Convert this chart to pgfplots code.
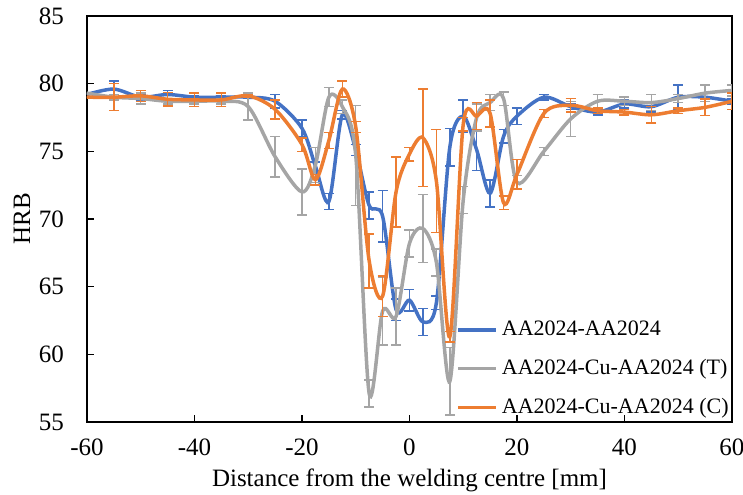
\documentclass[border=0pt]{standalone}
\usepackage{fontspec}
\setmainfont{Liberation Serif}
\usepackage{pgfplots}
\usepackage{pgfplotstable}
\pgfplotsset{compat=1.18}
\definecolor{xlblue}{HTML}{4472C4}
\definecolor{xlgray}{HTML}{A5A5A5}
\definecolor{xlorange}{HTML}{ED7D31}

% x, HRB, error
\pgfplotstableread{
x y e
-60 79.2 0
-55 79.6 0.6
-50 79.0 0.2
-45 79.2 0.3
-40 79.0 0.1
-35 79.0 0.1
-30 79.0 0.1
-25 78.7 0.5
-20 76.7 0.6
-17.5 73.9 0.3
-15 71.3 0.6
-12.5 77.7 0.3
-10 75.1 0.4
-7.5 71.0 1.0
-5 70.2 1.9
-2.5 63.3 0.8
0 64.0 0.8
2.5 62.4 1.0
5 63.8 0.5
7.5 75.3 1.4
10 77.6 1.2
12.5 75.1 1.5
15 71.9 1.0
17.5 76.1 0.5
20 77.6 0.6
25 79.0 0.2
30 78.3 0.2
35 77.9 0.2
40 78.5 0.3
45 78.3 0.4
50 79.0 0.9
55 79.0 0.3
60 78.7 0.2
}\tabAA

\pgfplotstableread{
x y e
-60 79.3 0
-55 79.0 0.2
-50 78.9 0.4
-45 78.7 0.2
-40 78.7 0.2
-35 78.7 0.2
-30 78.3 1.0
-25 74.6 1.5
-20 72.0 1.7
-17.5 74.0 1.3
-15 79.0 0.7
-12.5 78.3 0.5
-10 74.7 3.7
-7.5 57.1 1.0
-5 63.2 2.5
-2.5 62.8 2.1
0 68.2 1.0
2.5 69.3 2.5
5 66.8 1.0
7.5 58.0 2.5
10 71.4 1.0
12.5 77.5 1.0
15 78.6 0.6
17.5 78.9 0.5
20 72.7 0.5
25 75.0 0.3
30 77.4 1.3
35 78.7 0.5
40 78.7 0.3
45 78.6 0.6
50 78.9 0.3
55 79.3 0.6
60 79.5 0.4
}\tabT

\pgfplotstableread{
x y e
-60 79.0 0
-55 79.0 1.0
-50 79.1 0.4
-45 78.85 0.5
-40 78.8 0.5
-35 78.8 0.5
-30 79.1 0.1
-25 78.1 0.7
-20 75.5 0.5
-17.5 72.9 0.4
-15 75.8 0.6
-12.5 79.6 0.6
-10 76.8 0.4
-7.5 66.9 2.0
-5 64.3 1.5
-2.5 72.0 2.6
0 74.8 0.5
2.5 76.0 3.6
5 72.8 3.8
7.5 61.3 0.4
10 77.0 0.5
12.5 77.6 1.0
15 77.8 1.0
17.5 71.2 0.5
20 73.3 1.1
25 77.8 0.3
30 78.4 0.5
35 78.0 0.2
40 77.9 0.2
45 77.7 0.6
50 78.0 0.2
55 78.25 0.6
60 78.7 0.6
}\tabC

\begin{document}
\begin{tikzpicture}
\begin{axis}[
    name=ax, at={(0,0)}, anchor=south west,
    scale only axis, width=322.5pt, height=203pt,
    xmin=-60, xmax=60, ymin=55, ymax=85,
    xtick={-60,-40,...,60}, ytick={55,60,...,85},
    tick align=inside, xtick pos=bottom, ytick pos=left,
    major tick length=3.5pt,
    tick style={black, line width=0.6pt},
    axis line style={line width=0.7pt},
    font=\fontsize{12.5}{14}\selectfont,
    /pgf/number format/assume math mode=true,
    xticklabel style={yshift=-5pt},
    yticklabel style={xshift=-8pt},
    xlabel={Distance from the welding centre [mm]},
    ylabel={HRB},
    every axis x label/.style={at={([yshift=-29pt]axis description cs:0.5,0)}, anchor=center},
    every axis y label/.style={at={([xshift=-32.5pt]axis description cs:0,0.5)}, rotate=90, anchor=center},
    legend style={draw=none, fill=none, at={(rel axis cs:1,0)}, anchor=south east,
        xshift=3.5pt, yshift=-1.5pt, font=\fontsize{11}{13}\selectfont,
        row sep=6.3pt, legend cell align=left},
    legend image code/.code={\draw[#1, line width=1.75pt] (0pt,0pt) -- (19pt,0pt);},
    error bars/y dir=both, error bars/y explicit,
    error bars/error mark=-,
]
\addplot[xlblue, line width=1.75pt, smooth,
    error bars/error bar style={line width=0.75pt, xlblue},
    error bars/error mark options={rotate=90, line width=0.75pt, mark size=2.5pt, xlblue}]
    table[x=x, y=y, y error=e] {\tabAA};
\addlegendentry{AA2024-AA2024}
\addplot[xlgray, line width=1.75pt, smooth,
    error bars/error bar style={line width=0.75pt, xlgray},
    error bars/error mark options={rotate=90, line width=0.75pt, mark size=2.5pt, xlgray}]
    table[x=x, y=y, y error=e] {\tabT};
\addlegendentry{AA2024-Cu-AA2024 (T)}
\addplot[xlorange, line width=1.75pt, smooth,
    error bars/error bar style={line width=0.75pt, xlorange},
    error bars/error mark options={rotate=90, line width=0.75pt, mark size=2.5pt, xlorange}]
    table[x=x, y=y, y error=e] {\tabC};
\addlegendentry{AA2024-Cu-AA2024 (C)}
\end{axis}
\pgfresetboundingbox
\useasboundingbox ([xshift=-43.5pt, yshift=-36.5pt]ax.south west) rectangle ([xshift=5.5pt, yshift=8pt]ax.north east);
\end{tikzpicture}
\end{document}
